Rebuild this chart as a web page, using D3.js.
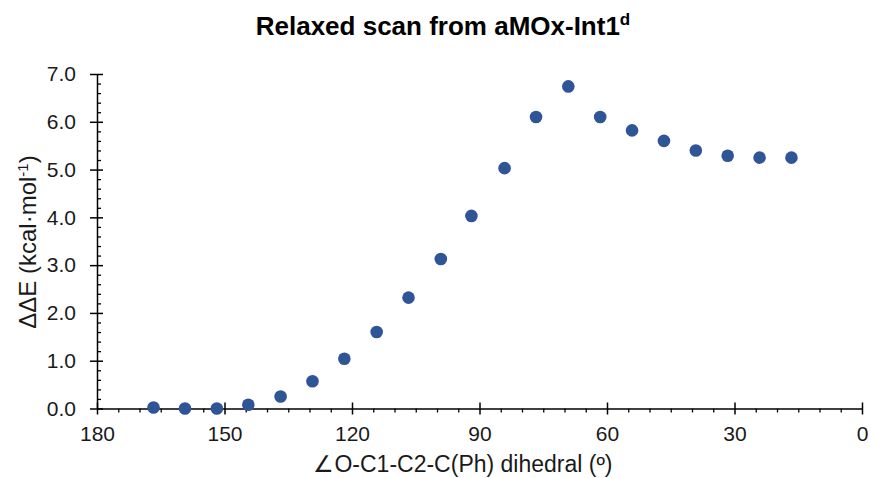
<!DOCTYPE html>
<html>
<head>
<meta charset="utf-8">
<script src="https://cdn.jsdelivr.net/npm/d3@7"></script>
<style>
  html, body { margin: 0; padding: 0; background: #fff; }
  svg { display: block; font-family: "Liberation Sans", Arial, sans-serif; }
</style>
</head>
<body>
<svg id="chart" width="870" height="478"></svg>
<script>
// Relaxed dihedral scan: dihedral angle (degrees) and relative energy (kcal/mol)
const dihedral = [166.7, 159.3, 151.8, 144.4, 136.8, 129.3, 121.8, 114.2, 106.7, 99.1, 91.9,
                  84.1, 76.7, 69.1, 61.6, 54.1, 46.6, 39.1, 31.6, 24.1, 16.6];
const deltaE   = [0.02, 0.00, 0.00, 0.08, 0.25, 0.57, 1.04, 1.60, 2.32, 3.13, 4.03,
                  5.03, 6.10, 6.74, 6.10, 5.82, 5.60, 5.40, 5.29, 5.25, 5.25];
const xTicks = [180, 150, 120, 90, 60, 30, 0];
const yTicks = [0, 1, 2, 3, 4, 5, 6, 7];

(function draw() {
  const svg = d3.select("#chart");
  const plotLeft = 97, plotRight = 862, plotTop = 74, plotBottom = 408.5;
  const tickFont = 21, labelColor = "#1a1a1a";

  const x = d3.scaleLinear().domain([180, 0]).range([plotLeft, plotRight]);
  const y = d3.scaleLinear().domain([0, 7]).range([plotBottom, plotTop]);

  // Minor ticks
  const yMinor = d3.range(0, 7.0001, 0.2).filter(v => Math.abs(v - Math.round(v)) > 1e-6);
  const xMinor = d3.range(0, 180.0001, 5).filter(v => v % 30 !== 0);

  // Y axis: minor ticks inside, major ticks cross
  const gy = svg.append("g").attr("transform", `translate(${plotLeft},0)`);
  gy.call(d3.axisLeft(y).tickValues(yMinor).tickSize(-4).tickFormat(""))
    .call(g => g.select(".domain").remove())
    .call(g => g.selectAll("line").attr("stroke", "#000").attr("stroke-width", 1.3));
  gy.append("g")
    .call(d3.axisLeft(y).tickValues(yTicks).tickSize(7).tickSizeOuter(0).tickPadding(14).tickFormat(d3.format(".1f")))
    .call(g => g.select(".domain").attr("stroke", "#000").attr("stroke-width", 1.5))
    .call(g => g.selectAll(".tick line").attr("stroke", "#000").attr("stroke-width", 1.5).attr("x2", -7).attr("x1", 6))
    .call(g => g.selectAll("text").attr("font-size", tickFont).attr("fill", labelColor).attr("font-family", "Liberation Sans, Arial, sans-serif"));

  // X axis: minor ticks outside, major ticks cross
  const gx = svg.append("g").attr("transform", `translate(0,${plotBottom})`);
  gx.call(d3.axisBottom(x).tickValues(xMinor).tickSize(4).tickFormat(""))
    .call(g => g.select(".domain").remove())
    .call(g => g.selectAll("line").attr("stroke", "#000").attr("stroke-width", 1.3));
  gx.append("g")
    .call(d3.axisBottom(x).tickValues(xTicks).tickSize(6).tickSizeOuter(0).tickPadding(12).tickFormat(d3.format("d")))
    .call(g => g.select(".domain").attr("stroke", "#000").attr("stroke-width", 1.5))
    .call(g => g.selectAll(".tick line").attr("stroke", "#000").attr("stroke-width", 1.5).attr("y1", -6).attr("y2", 6))
    .call(g => g.selectAll("text").attr("font-size", tickFont).attr("fill", labelColor).attr("font-family", "Liberation Sans, Arial, sans-serif"));

  // Data points
  svg.append("g").selectAll("circle")
    .data(dihedral.map((d, i) => [d, deltaE[i]]))
    .join("circle")
    .attr("cx", d => x(d[0]))
    .attr("cy", d => y(d[1]))
    .attr("r", 6.3)
    .attr("fill", "#2f5597");

  // Title
  const title = svg.append("text")
    .attr("x", 443).attr("y", 35)
    .attr("text-anchor", "middle")
    .attr("font-size", 26).attr("font-weight", "bold").attr("fill", "#000");
  title.append("tspan").text("Relaxed scan from aMOx-Int1");
  title.append("tspan").attr("dy", -10).attr("font-size", 17).text("d");

  // Y axis title
  const yTitle = svg.append("text")
    .attr("transform", "translate(36,242) rotate(-90)")
    .attr("text-anchor", "middle")
    .attr("font-size", 24).attr("fill", labelColor);
  yTitle.append("tspan").text("ΔΔE (kcal·mol");
  yTitle.append("tspan").attr("dy", -8).attr("font-size", 15).text("-1");
  yTitle.append("tspan").attr("dy", 8).text(")");

  // X axis title
  svg.append("text")
    .attr("x", 463).attr("y", 472)
    .attr("text-anchor", "middle")
    .attr("font-size", 23).attr("fill", labelColor)
    .text("∠O-C1-C2-C(Ph) dihedral (º)");
})();
</script>
</body>
</html>
